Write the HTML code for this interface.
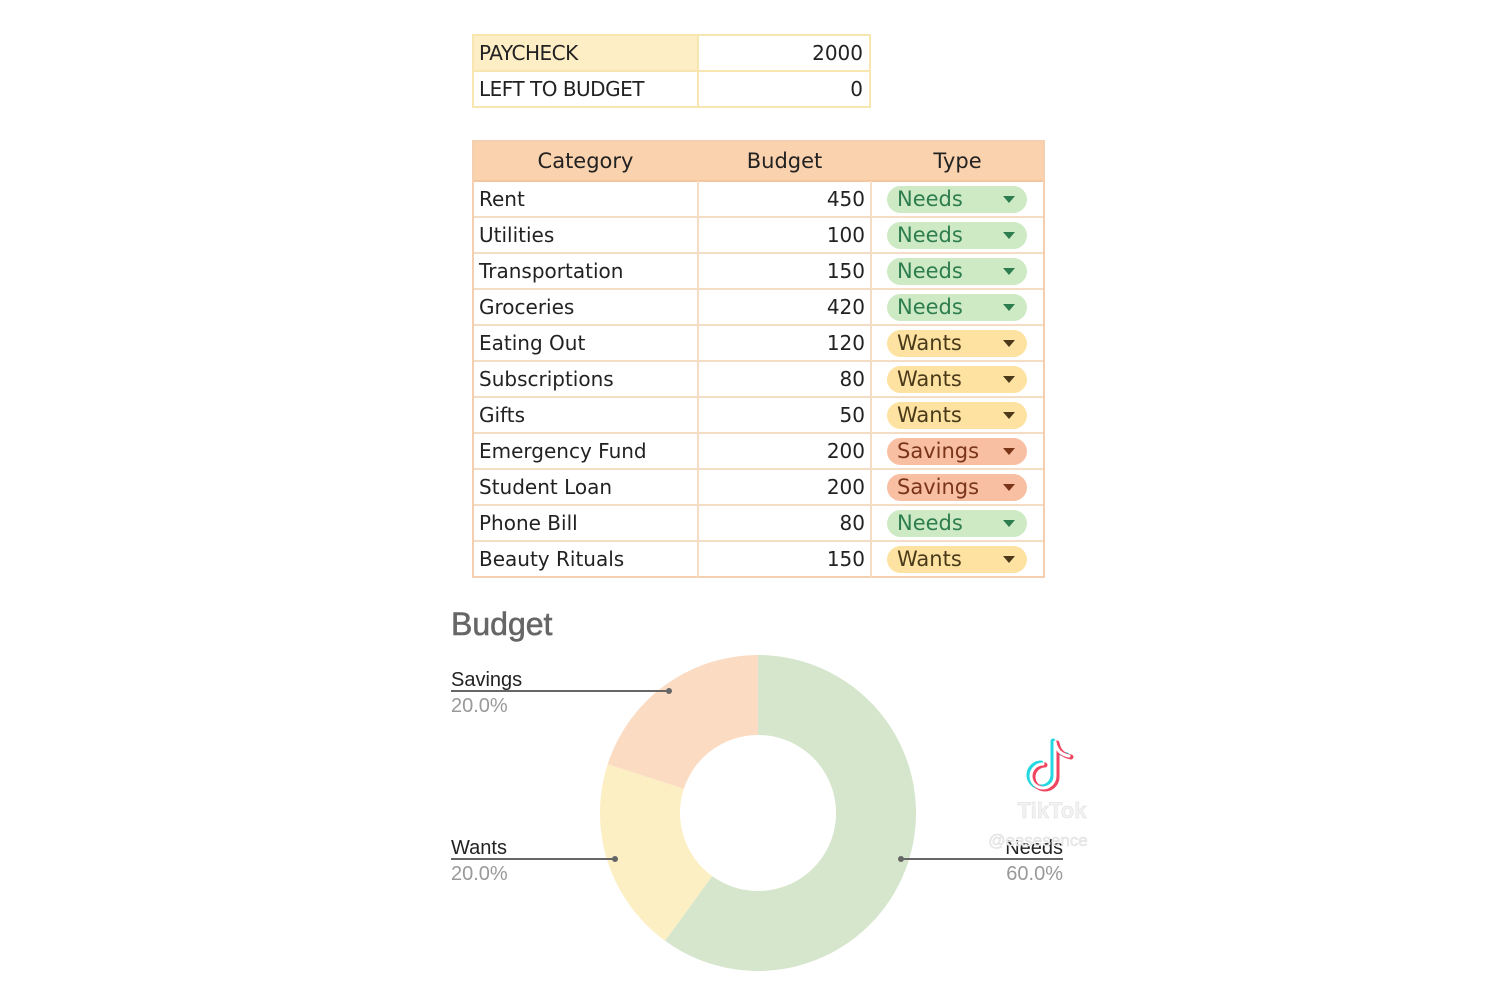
<!DOCTYPE html>
<html><head><meta charset="utf-8"><style>
body{margin:0;width:1500px;height:1000px;background:#fff;position:relative;overflow:hidden;font-family:"DejaVu Sans","Liberation Sans",sans-serif;color:#222}
.c{position:absolute;box-sizing:border-box;font-size:20px;line-height:36px;white-space:nowrap}
.l{padding-left:6px}
.r{text-align:right;padding-right:6px}
.pill{position:absolute;left:887px;width:140px;height:27px;border-radius:14px;font-size:21px;line-height:27px;padding-left:10px;box-sizing:border-box}
.pill:after{content:"";position:absolute;right:12px;top:10px;border-left:6px solid transparent;border-right:6px solid transparent;border-top:7px solid currentColor}
.n{background:#cdeac4;color:#2e7d4f}
.w{background:#fde2a2;color:#4a3a1a}
.s{background:#f8bfa2;color:#7a3518}
</style></head><body>
<div style="position:absolute;left:472px;top:34px;width:399px;height:74px;border:2px solid #f7e6b0;box-sizing:border-box"></div>
<div style="position:absolute;left:474px;top:36px;width:224px;height:35px;background:#fdeec6"></div>
<div style="position:absolute;left:697px;top:36px;width:2px;height:70px;background:#f7e6b0"></div>
<div style="position:absolute;left:474px;top:70px;width:395px;height:2px;background:#f7e6b0"></div>
<div class="c l" style="left:473px;top:35px;letter-spacing:-0.5px">PAYCHECK</div>
<div class="c l" style="left:473px;top:71px;letter-spacing:-0.5px">LEFT TO BUDGET</div>
<div class="c r" style="left:698px;top:35px;width:171px">2000</div>
<div class="c r" style="left:698px;top:71px;width:171px">0</div>

<div style="position:absolute;left:472px;top:140px;width:573px;height:438px;border:2px solid #f5d0b0;box-sizing:border-box"></div>
<div style="position:absolute;left:474px;top:142px;width:569px;height:38px;background:#fbd2ae;border-bottom:2px solid #f3c6a0"></div>
<div class="c" style="left:473px;top:142px;width:225px;text-align:center;line-height:38px;font-size:21px">Category</div>
<div class="c" style="left:698px;top:142px;width:173px;text-align:center;line-height:38px;font-size:21px">Budget</div>
<div class="c" style="left:871px;top:142px;width:173px;text-align:center;line-height:38px;font-size:21px">Type</div>
<div style="position:absolute;left:697px;top:181px;width:2px;height:396px;background:#f5dcc4"></div>
<div style="position:absolute;left:870px;top:181px;width:2px;height:396px;background:#f5dcc4"></div>
<div id="rows"></div>
<script>
var d=[["Rent",450,"n","Needs"],["Utilities",100,"n","Needs"],["Transportation",150,"n","Needs"],["Groceries",420,"n","Needs"],["Eating Out",120,"w","Wants"],["Subscriptions",80,"w","Wants"],["Gifts",50,"w","Wants"],["Emergency Fund",200,"s","Savings"],["Student Loan",200,"s","Savings"],["Phone Bill",80,"n","Needs"],["Beauty Rituals",150,"w","Wants"]];
var h="";
d.forEach(function(r,i){var t=181+36*i;
h+='<div class="c l" style="left:473px;top:'+t+'px">'+r[0]+'</div>';
h+='<div class="c r" style="left:698px;top:'+t+'px;width:173px">'+r[1]+'</div>';
h+='<div class="pill '+r[2]+'" style="top:'+(t+5)+'px">'+r[3]+'</div>';
if(i<10)h+='<div style="position:absolute;left:474px;top:'+(t+35)+'px;width:569px;height:2px;background:#f5dcc4"></div>';});
document.getElementById("rows").innerHTML=h;
</script>

<svg width="1500" height="1000" style="position:absolute;left:0;top:0" xmlns="http://www.w3.org/2000/svg">
<text x="451" y="635" font-family="Liberation Sans,sans-serif" font-size="32" fill="#666" stroke="#666" stroke-width="0.6">Budget</text>
<path d="M758 655 A158 158 0 1 1 665.1 940.8 L712.2 876.1 A78 78 0 1 0 758 735 Z" fill="#d5e6cc"/>
<path d="M665.1 940.8 A158 158 0 0 1 607.7 764.2 L683.8 788.9 A78 78 0 0 0 712.2 876.1 Z" fill="#fdefc4"/>
<path d="M607.7 764.2 A158 158 0 0 1 758 655 L758 735 A78 78 0 0 0 683.8 788.9 Z" fill="#fbdcc3"/>
<g font-family="Liberation Sans,sans-serif" font-size="20">
<text x="451" y="686" fill="#222">Savings</text>
<text x="451" y="712" fill="#999">20.0%</text>
<line x1="451" y1="691" x2="669" y2="691" stroke="#666" stroke-width="2"/><circle cx="669" cy="691" r="3" fill="#666"/>
<text x="451" y="854" fill="#222">Wants</text>
<text x="451" y="880" fill="#999">20.0%</text>
<line x1="451" y1="859" x2="615" y2="859" stroke="#666" stroke-width="2"/><circle cx="615" cy="859" r="3" fill="#666"/>
<text x="1063" y="854" fill="#222" text-anchor="end">Needs</text>
<text x="1063" y="880" fill="#999" text-anchor="end">60.0%</text>
<line x1="901" y1="859" x2="1063" y2="859" stroke="#666" stroke-width="2"/><circle cx="901" cy="859" r="3" fill="#666"/>
</g>
<g fill="none" stroke-width="5" stroke-linecap="round">
<path d="M1055 742 v34 a12 12 0 1 1 -12 -12 M1055 742 q2 12 14 14" stroke="#25d8e0" transform="translate(-2,-1)"/>
<path d="M1055 742 v34 a12 12 0 1 1 -12 -12 M1055 742 q2 12 14 14" stroke="#f04560" transform="translate(2,1)"/>
<path d="M1055 742 v34 a12 12 0 1 1 -12 -12 M1055 742 q2 12 14 14" stroke="#fff" stroke-width="3"/>
</g>
<text x="1052" y="818" text-anchor="middle" font-family="Liberation Sans,sans-serif" font-size="22" font-weight="bold" fill="#f2f2f2" stroke="#ddd" stroke-width="0.5">TikTok</text>
<text x="1038" y="846" text-anchor="middle" font-family="Liberation Sans,sans-serif" font-size="17" fill="#eee" stroke="#ddd" stroke-width="0.5">@easesence</text>
</svg>
</body></html>
